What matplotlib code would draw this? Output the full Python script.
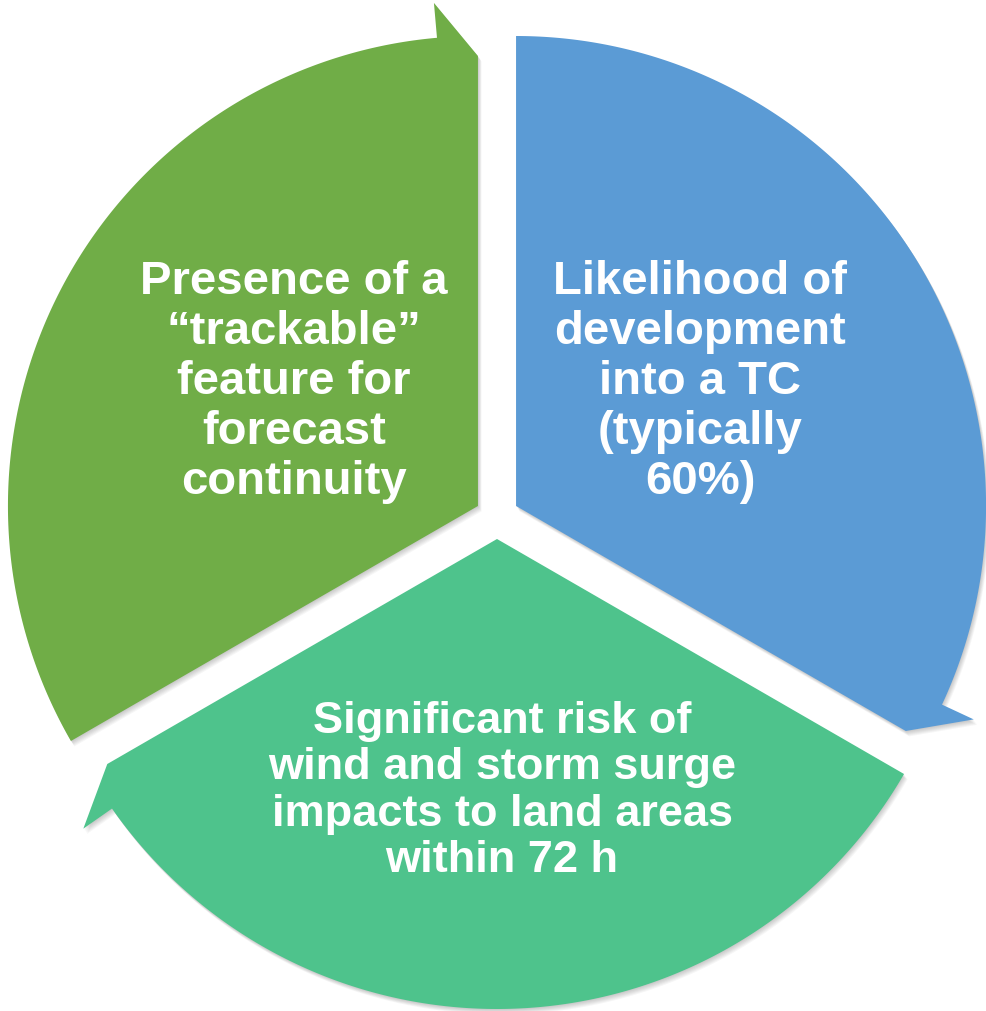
import numpy as np
import matplotlib.pyplot as plt
from matplotlib.patches import Polygon

# clockwise from the top
labels = [
    "Likelihood of\ndevelopment\ninto a TC\n(typically\n60%)",
    "Significant risk of\nwind and storm surge\nimpacts to land areas\nwithin 72 h",
    "Presence of a\n\u201ctrackable\u201d\nfeature for\nforecast\ncontinuity",
]
shares = [1, 1, 1]
colors = ["#5B9BD5", "#4EC38C", "#70AD47"]

# layout (pixels, y up)
W, H = 987, 1011
cx, cy = 497, 494
R = 470
explode = 22
arrow_ang = 5
spike_r = R + 35
tip_r = R - 20
text_r = [222, 252, 222]
text_tilt = 4
font_sizes = [34, 32.5, 34]
line_sp = [1.18, 1.17, 1.18]


def pt(ox, oy, r, ang):
    a = np.deg2rad(ang)
    return ox + r * np.cos(a), oy + r * np.sin(a)


def segment(start, end):
    mid = (start + end) / 2
    ox, oy = pt(cx, cy, explode, mid)
    arc = np.linspace(start, end + arrow_ang, 200)
    xs = [ox] + [pt(ox, oy, R, a)[0] for a in arc]
    ys = [oy] + [pt(ox, oy, R, a)[1] for a in arc]
    for r, a in [(spike_r, end + arrow_ang), (tip_r, end)]:
        x, y = pt(ox, oy, r, a)
        xs.append(x)
        ys.append(y)
    return np.column_stack([xs, ys]), (ox, oy, mid)


fig = plt.figure(figsize=(W / 100, H / 100), dpi=100)
ax = fig.add_axes([0, 0, 1, 1])
ax.set_xlim(0, W)
ax.set_ylim(0, H)
ax.set_aspect("equal")
ax.axis("off")

total = sum(shares)
angle = 90
for i, (lab, s, col) in enumerate(zip(labels, shares, colors)):
    start = angle
    end = angle - s / total * 360
    angle = end
    verts, (ox, oy, mid) = segment(start, end)

    # soft drop shadow
    for k in range(1, 7):
        ax.add_patch(Polygon(verts + [k * 0.6, -k * 0.9], closed=True,
                             facecolor="black", edgecolor="none",
                             alpha=0.035, zorder=1))
    ax.add_patch(Polygon(verts, closed=True, facecolor=col,
                         edgecolor="none", zorder=2))

    # labels sit a little toward the top of the side segments
    side = np.sign(np.round(np.cos(np.deg2rad(mid)), 6))
    tx, ty = pt(ox, oy, text_r[i], mid + text_tilt * side)
    if side == 0:
        tx += 5
    ax.text(tx, ty, lab, ha="center", va="center", multialignment="center",
            color="white", fontsize=font_sizes[i], fontweight="bold",
            family="Liberation Sans", linespacing=line_sp[i], zorder=3)

fig.savefig("out.png", dpi=100, facecolor="white")
plt.close(fig)
